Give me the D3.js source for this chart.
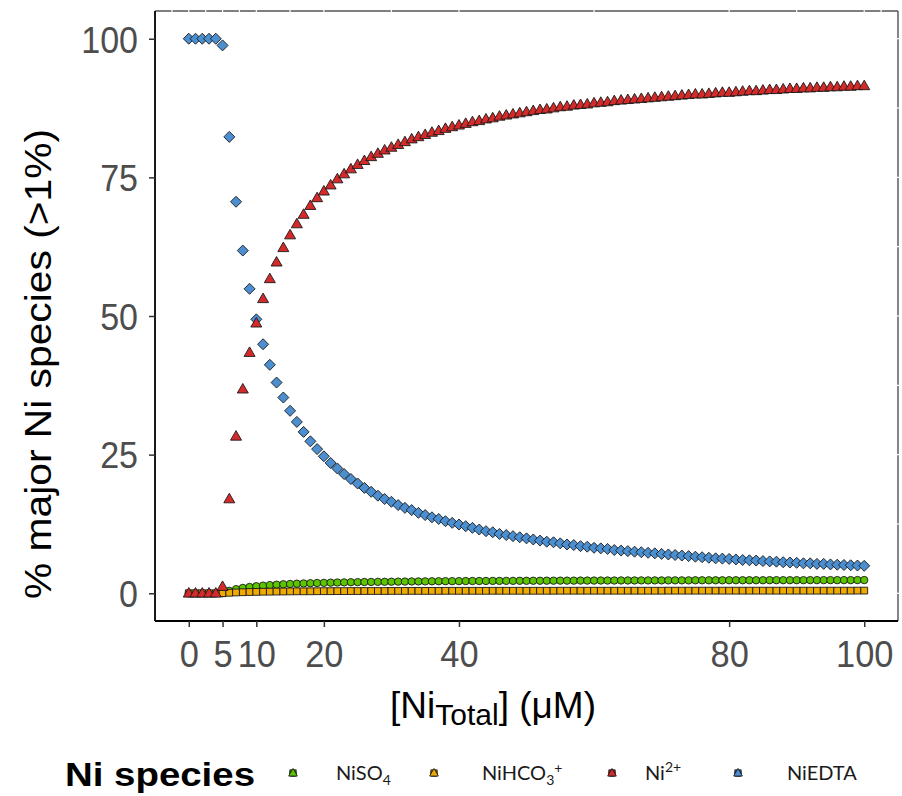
<!DOCTYPE html>
<html>
<head>
<meta charset="utf-8">
<script src="https://cdn.jsdelivr.net/npm/d3@7"></script>
<style>
  body { margin: 0; background: #fff; }
  svg { display: block; }
</style>
</head>
<body>
<div id="chart"></div>
<script>
// Ni speciation vs total Ni

var width = 902,
	height = 796;

// total Ni concentration (uM), one sample per uM
var niTotal = d3.range(0, 101);

var niEDTA = [100, 100, 100, 100, 100, 98.8, 82.3, 70.6, 61.8, 54.9,
	49.4, 44.9, 41.2, 38.0, 35.3, 32.9, 30.9, 29.1, 27.4, 26.0,
	24.7, 23.5, 22.5, 21.5, 20.6, 19.8, 19.0, 18.3, 17.6, 17.0,
	16.5, 15.9, 15.4, 15.0, 14.5, 14.1, 13.7, 13.4, 13.0, 12.7,
	12.4, 12.1, 11.8, 11.5, 11.2, 11.0, 10.7, 10.5, 10.3, 10.1,
	9.9, 9.7, 9.5, 9.3, 9.2, 9.0, 8.8, 8.7, 8.5, 8.4,
	8.2, 8.1, 8.0, 7.8, 7.7, 7.6, 7.5, 7.4, 7.3, 7.2,
	7.1, 7.0, 6.9, 6.8, 6.7, 6.6, 6.5, 6.4, 6.3, 6.25,
	6.2, 6.1, 6.0, 5.95, 5.9, 5.8, 5.75, 5.7, 5.6, 5.55,
	5.5, 5.4, 5.4, 5.3, 5.3, 5.2, 5.15, 5.1, 5.05, 5.0,
	4.95];

var ni2 = [0, 0, 0, 0, 0, 1.2, 17.0, 28.3, 36.8, 43.4,
	48.7, 53.1, 56.7, 59.7, 62.3, 64.6, 66.6, 68.3, 69.9, 71.3,
	72.5, 73.6, 74.7, 75.6, 76.5, 77.3, 78.0, 78.7, 79.3, 79.9,
	80.4, 80.9, 81.4, 81.9, 82.3, 82.7, 83.1, 83.4, 83.8, 84.1,
	84.4, 84.7, 85.0, 85.2, 85.5, 85.7, 86.0, 86.2, 86.4, 86.6,
	86.8, 87.0, 87.2, 87.3, 87.5, 87.7, 87.8, 88.0, 88.1, 88.2,
	88.4, 88.5, 88.6, 88.8, 88.9, 89.0, 89.1, 89.2, 89.3, 89.4,
	89.5, 89.6, 89.7, 89.8, 89.9, 90.0, 90.0, 90.1, 90.2, 90.3,
	90.3, 90.4, 90.5, 90.6, 90.6, 90.7, 90.8, 90.8, 90.9, 91.0,
	91.0, 91.1, 91.1, 91.2, 91.2, 91.3, 91.3, 91.4, 91.4, 91.5,
	91.5];

var niSO4 = [0, 0, 0, 0, 0, 0.03, 0.44, 0.74, 0.96, 1.13,
	1.27, 1.38, 1.47, 1.55, 1.62, 1.68, 1.73, 1.77, 1.81, 1.85,
	1.88, 1.91, 1.94, 1.96, 1.99, 2.01, 2.03, 2.04, 2.06, 2.07,
	2.09, 2.10, 2.11, 2.13, 2.14, 2.15, 2.16, 2.17, 2.18, 2.18,
	2.19, 2.20, 2.21, 2.21, 2.22, 2.23, 2.23, 2.24, 2.24, 2.25,
	2.25, 2.26, 2.26, 2.27, 2.27, 2.28, 2.28, 2.28, 2.29, 2.29,
	2.29, 2.30, 2.30, 2.30, 2.31, 2.31, 2.31, 2.32, 2.32, 2.32,
	2.32, 2.33, 2.33, 2.33, 2.33, 2.34, 2.34, 2.34, 2.34, 2.34,
	2.35, 2.35, 2.35, 2.35, 2.35, 2.35, 2.36, 2.36, 2.36, 2.36,
	2.36, 2.36, 2.37, 2.37, 2.37, 2.37, 2.37, 2.37, 2.37, 2.38,
	2.38];

var niHCO3 = [0, 0, 0, 0, 0, 0.01, 0.09, 0.15, 0.19, 0.23,
	0.25, 0.28, 0.29, 0.31, 0.32, 0.34, 0.35, 0.35, 0.36, 0.37,
	0.38, 0.38, 0.39, 0.39, 0.40, 0.40, 0.41, 0.41, 0.41, 0.41,
	0.42, 0.42, 0.42, 0.43, 0.43, 0.43, 0.43, 0.43, 0.44, 0.44,
	0.44, 0.44, 0.44, 0.44, 0.44, 0.45, 0.45, 0.45, 0.45, 0.45,
	0.45, 0.45, 0.45, 0.45, 0.45, 0.46, 0.46, 0.46, 0.46, 0.46,
	0.46, 0.46, 0.46, 0.46, 0.46, 0.46, 0.46, 0.46, 0.46, 0.46,
	0.46, 0.47, 0.47, 0.47, 0.47, 0.47, 0.47, 0.47, 0.47, 0.47,
	0.47, 0.47, 0.47, 0.47, 0.47, 0.47, 0.47, 0.47, 0.47, 0.47,
	0.47, 0.47, 0.47, 0.47, 0.47, 0.47, 0.47, 0.47, 0.47, 0.48,
	0.48];

var xTicks = [0, 5, 10, 20, 40, 80, 100];
var yTicks = [0, 25, 50, 75, 100];
// minor grid positions (white lines that cut the top/right border)
var xMinor = [-2.5, 0, 2.5, 5, 7.5, 10, 15, 20, 30, 40, 60, 80, 90, 100, 102.5];
var yMinor = [0, 12.5, 25, 37.5, 50, 62.5, 75, 87.5, 100];

var species = [
	{key: 'NiEDTA', values: niEDTA, shape: 'diamond', fill: '#4b8fd1'},
	{key: 'NiSO4', values: niSO4, shape: 'circle', fill: '#5cc500'},
	{key: 'NiHCO3', values: niHCO3, shape: 'square', fill: '#eeaa00'},
	{key: 'Ni2', values: ni2, shape: 'triangle', fill: '#d42a2a'}
];
var legendOrder = ['NiSO4', 'NiHCO3', 'Ni2', 'NiEDTA'];

var panel = {left: 155, right: 898, top: 11, bottom: 621};

var x = d3.scaleLinear().domain([-5, 105]).range([panel.left, panel.right]);
var y = d3.scaleLinear().domain([-5, 105]).range([panel.bottom, panel.top]);

var svg = d3.select('#chart').append('svg')
	.attr('width', width)
	.attr('height', height);

// shape paths centred on 0,0 (ggplot pch 21-24 look)
function shapePath(shape, s){
	if(shape == 'diamond'){
		return 'M0,' + (-s) + 'L' + s + ',0L0,' + s + 'L' + (-s) + ',0Z';
	}
	else if(shape == 'triangle'){
		var h = s * 1.73;
		return 'M0,' + (-h * 0.6) + 'L' + s + ',' + (h * 0.4) + 'L' + (-s) + ',' + (h * 0.4) + 'Z';
	}
	else if(shape == 'square'){
		return 'M' + (-s) + ',' + (-s) + 'h' + (2 * s) + 'v' + (2 * s) + 'h' + (-2 * s) + 'Z';
	}
	else{
		return d3.arc()({innerRadius: 0, outerRadius: s, startAngle: 0, endAngle: 2 * Math.PI});
	}
}
var shapeSize = {diamond: 5.5, triangle: 5.5, square: 3.4, circle: 3.7};

// panel border (top/right drawn lighter, cut by grid lines)
svg.append('line')
	.attr('x1', panel.left).attr('x2', panel.right)
	.attr('y1', panel.top).attr('y2', panel.top)
	.attr('stroke', '#555').attr('stroke-width', 1.3);
svg.append('line')
	.attr('x1', panel.right).attr('x2', panel.right)
	.attr('y1', panel.top).attr('y2', panel.bottom)
	.attr('stroke', '#444').attr('stroke-width', 1.3);

svg.append('g').selectAll('line')
	.data(xMinor)
	.enter()
	.append('line')
	.attr('x1', d => x(d)).attr('x2', d => x(d))
	.attr('y1', panel.top - 2).attr('y2', panel.top + 2)
	.attr('stroke', '#fff').attr('stroke-width', 1.2);

svg.append('g').selectAll('line')
	.data(yMinor)
	.enter()
	.append('line')
	.attr('x1', panel.right - 2).attr('x2', panel.right + 2)
	.attr('y1', d => y(d)).attr('y2', d => y(d))
	.attr('stroke', '#fff').attr('stroke-width', 1.2);

// points
species.forEach(function(sp){
	svg.append('g')
		.attr('class', 'series ' + sp.key)
		.selectAll('path')
		.data(niTotal.map((n, i) => ({x: n, y: sp.values[i]})))
		.enter()
		.append('path')
		.attr('transform', d => 'translate(' + x(d.x) + ',' + y(d.y) + ')')
		.attr('d', shapePath(sp.shape, shapeSize[sp.shape]))
		.attr('fill', sp.fill)
		.attr('stroke', '#1a1a1a')
		.attr('stroke-width', 0.9);
});

// axes
var xAxis = svg.append('g')
	.attr('transform', 'translate(0,' + panel.bottom + ')')
	.call(d3.axisBottom(x).tickValues(xTicks).tickSize(6).tickPadding(4).tickSizeOuter(0));
var yAxis = svg.append('g')
	.attr('transform', 'translate(' + panel.left + ',0)')
	.call(d3.axisLeft(y).tickValues(yTicks).tickSize(6).tickPadding(4).tickSizeOuter(0));

[xAxis, yAxis].forEach(function(ax){
	ax.select('.domain').attr('stroke', '#000').attr('stroke-width', 1.8);
	ax.selectAll('.tick line').attr('stroke', '#333').attr('stroke-width', 1.5);
	ax.selectAll('.tick text')
		.attr('fill', '#4d4d4d')
		.attr('font-family', 'Liberation Sans, Arial, sans-serif')
		.attr('font-size', 37);
});
// tick labels are a little narrow in the original: squeeze horizontally
xAxis.selectAll('.tick text')
	.attr('dy', null)
	.attr('y', 46)
	.attr('transform', 'scale(0.93,1)');
yAxis.selectAll('.tick text')
	.attr('dy', '0.36em')
	.attr('x', -17 / 0.92)
	.attr('transform', 'scale(0.92,1)');

// full axis lines to panel corners
xAxis.select('.domain').attr('d', 'M' + panel.left + ',0H' + panel.right);
yAxis.select('.domain').attr('d', 'M0,' + panel.top + 'V' + panel.bottom);

// axis titles
var xTitle = svg.append('text')
	.attr('x', 493)
	.attr('y', 718)
	.attr('text-anchor', 'middle')
	.attr('font-family', 'Liberation Sans, Arial, sans-serif')
	.attr('font-size', 37)
	.attr('fill', '#000');
xTitle.append('tspan').text('[Ni');
xTitle.append('tspan').attr('font-size', 30).attr('dy', 7).text('Total');
xTitle.append('tspan').attr('dy', -7).text('] (μM)');

svg.append('text')
	.attr('transform', 'translate(51,364) rotate(-90)')
	.attr('text-anchor', 'middle')
	.attr('font-family', 'Liberation Sans, Arial, sans-serif')
	.attr('font-size', 37)
	.attr('textLength', 470)
	.attr('lengthAdjust', 'spacingAndGlyphs')
	.attr('fill', '#000')
	.text('% major Ni species (>1%)');

// legend
var legend = svg.append('g').attr('class', 'legend');
legend.append('text')
	.attr('x', 65).attr('y', 786)
	.attr('font-family', 'Liberation Sans, Arial, sans-serif')
	.attr('font-weight', 'bold')
	.attr('font-size', 34)
	.attr('textLength', 190)
	.attr('lengthAdjust', 'spacingAndGlyphs')
	.text('Ni species');

var keyX = {NiSO4: 293, NiHCO3: 434, Ni2: 612, NiEDTA: 738};
var labelX = {NiSO4: 336, NiHCO3: 482, Ni2: 645, NiEDTA: 787};

legendOrder.forEach(function(k){
	var sp = species.find(s => s.key == k);
	var g = legend.append('g')
		.attr('transform', 'translate(' + keyX[k] + ',773)');
	// small overlapping key glyphs like ggplot's merged legend
	['square', 'circle', 'diamond', 'triangle'].forEach(function(sh){
		g.append('path')
			.attr('d', shapePath(sh, sh == 'triangle' ? 4.4 : 3.2))
			.attr('fill', sp.fill)
			.attr('stroke', '#1a1a1a')
			.attr('stroke-width', 0.8);
	});
	var t = legend.append('text')
		.attr('x', labelX[k]).attr('y', 780)
		.attr('font-family', 'Lato, Open Sans, sans-serif')
		.attr('font-size', 20)
		.attr('fill', '#1a1a1a');
	if(k == 'NiSO4'){
		t.append('tspan').text('NiSO');
		t.append('tspan').attr('font-size', 14).attr('dy', 5).text('4');
	}
	else if(k == 'NiHCO3'){
		t.append('tspan').text('NiHCO');
		t.append('tspan').attr('font-size', 14).attr('dy', 5).text('3');
		t.append('tspan').attr('font-size', 14).attr('dy', -12).text('+');
	}
	else if(k == 'Ni2'){
		t.append('tspan').text('Ni');
		t.append('tspan').attr('font-size', 14).attr('dy', -8).text('2+');
	}
	else{
		t.text('NiEDTA');
	}
});
</script>
</body>
</html>
